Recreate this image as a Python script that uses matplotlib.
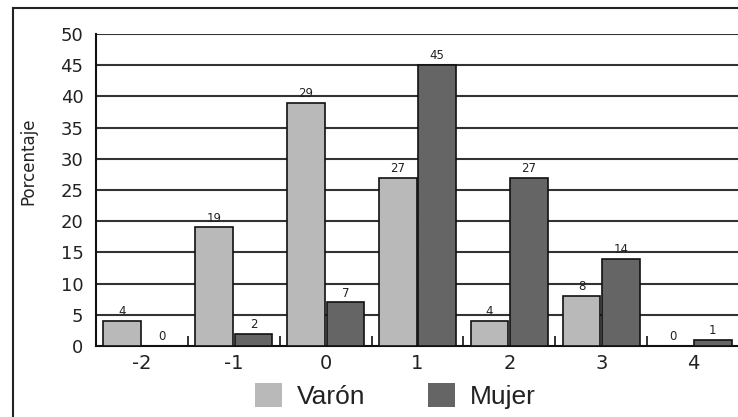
import numpy as np
import matplotlib
matplotlib.use("Agg")
import matplotlib.pyplot as plt
from matplotlib.lines import Line2D

plt.rcParams['font.family'] = ['DejaVu Sans']

# datos
categorias = ['-2', '-1', '0', '1', '2', '3', '4']
varon = [4, 19, 39, 27, 4, 8, 0]
mujer = [0, 2, 7, 45, 27, 14, 1]
# etiquetas tal como aparecen impresas (la del 0 dice 29)
etiq_varon = ['4', '19', '29', '27', '4', '8', '0']
etiq_mujer = ['0', '2', '7', '45', '27', '14', '1']

fig = plt.figure(figsize=(7.38, 4.17), dpi=100)
ax = fig.add_axes([96/738, 1 - 346/417, 643/738, (346 - 34)/417])

x = np.arange(len(categorias))
ancho = 0.41
b1 = ax.bar(x - 0.215, varon, ancho, color='#b9b9b9', edgecolor='#111111', linewidth=1.2,
            label='Varón', zorder=3)
b2 = ax.bar(x + 0.215, mujer, ancho, color='#656565', edgecolor='#111111', linewidth=1.2,
            label='Mujer', zorder=3)

for barras, etiq in ((b1, etiq_varon), (b2, etiq_mujer)):
    for b, t in zip(barras, etiq):
        ax.annotate(t, (b.get_x() + b.get_width()/2, b.get_height()),
                    xytext=(0, 2), textcoords='offset points',
                    ha='center', va='bottom', fontsize=8.5, color='#222222')

ax.set_xlim(-0.5, len(categorias) - 0.5)
ax.set_ylim(0, 50)
ax.set_yticks(range(0, 51, 5))
ax.tick_params(axis='y', length=0, labelsize=13, pad=9, colors='#222222')
ax.set_xticks(x)
ax.set_xticklabels(categorias)
ax.tick_params(axis='x', which='major', length=0, labelsize=14, pad=6, colors='#222222')
ax.set_xticks(np.arange(0.5, len(categorias) - 0.5), minor=True)
ax.tick_params(axis='x', which='minor', direction='in', length=7, width=1.2, color='#111111')

for v in range(5, 51, 5):
    ax.axhline(v, color='#333333', linewidth=1.5, zorder=1)

for s in ['top', 'right']:
    ax.spines[s].set_visible(False)
for s in ['left', 'bottom']:
    ax.spines[s].set_linewidth(1.5)
    ax.spines[s].set_color('#111111')

fig.text(28/738, 1 - 161/417, 'Porcentaje', rotation=90, ha='center', va='center',
         fontsize=12, color='#222222')

leg = fig.legend(handles=[b1, b2], loc='center', bbox_to_anchor=(0.536, 0.05),
                 ncol=2, frameon=False, prop={'family': 'Liberation Sans', 'size': 19},
                 handlelength=1.02, handleheight=1.02,
                 columnspacing=2.35, handletextpad=0.57, borderpad=0, borderaxespad=0)
for h in leg.legend_handles:
    h.set_edgecolor('none')
for t in leg.get_texts():
    t.set_color('#222222')

# marco exterior
fig.add_artist(Line2D([13/738, 1], [1 - 8/417, 1 - 8/417], color='#222222', linewidth=1.5))
fig.add_artist(Line2D([13/738, 13/738], [0, 1 - 8/417], color='#222222', linewidth=1.5))

fig.savefig('out.png', dpi=100)
